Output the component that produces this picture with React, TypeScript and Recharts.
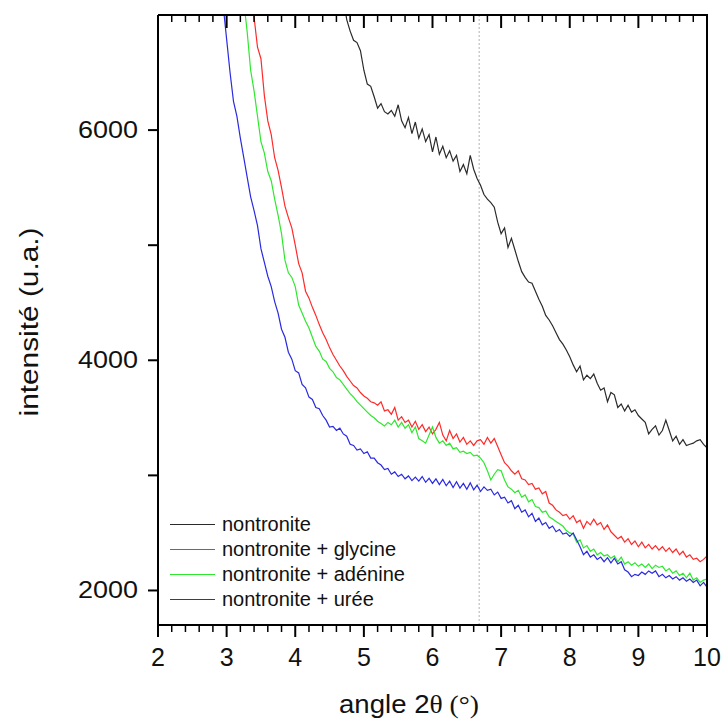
import React from "react";
import { LineChart, Line, XAxis, YAxis, ReferenceLine, Label } from "recharts";

const angles = [
  2.9, 2.95,
  3, 3.05, 3.1, 3.15, 3.2, 3.25, 3.3, 3.35, 3.4, 3.45, 3.5, 3.55, 3.6, 3.65, 3.7, 3.75, 3.8, 3.85, 3.9, 3.95,
  4, 4.05, 4.1, 4.15, 4.2, 4.25, 4.3, 4.35, 4.4, 4.45, 4.5, 4.55, 4.6, 4.65, 4.7, 4.75, 4.8, 4.85, 4.9, 4.95,
  5, 5.05, 5.1, 5.15, 5.2, 5.25, 5.3, 5.35, 5.4, 5.45, 5.5, 5.55, 5.6, 5.65, 5.7, 5.75, 5.8, 5.85, 5.9, 5.95,
  6, 6.05, 6.1, 6.15, 6.2, 6.25, 6.3, 6.35, 6.4, 6.45, 6.5, 6.55, 6.6, 6.65, 6.7, 6.75, 6.8, 6.85, 6.9, 6.95,
  7, 7.05, 7.1, 7.15, 7.2, 7.25, 7.3, 7.35, 7.4, 7.45, 7.5, 7.55, 7.6, 7.65, 7.7, 7.75, 7.8, 7.85, 7.9, 7.95,
  8, 8.05, 8.1, 8.15, 8.2, 8.25, 8.3, 8.35, 8.4, 8.45, 8.5, 8.55, 8.6, 8.65, 8.7, 8.75, 8.8, 8.85, 8.9, 8.95,
  9, 9.05, 9.1, 9.15, 9.2, 9.25, 9.3, 9.35, 9.4, 9.45, 9.5, 9.55, 9.6, 9.65, 9.7, 9.75, 9.8, 9.85, 9.9, 9.95,
  10,
];

// nontronite seule
const nontronite = [
  null, null,
  null, null, null, null, null, null, null, null, null, null, null, null, null, null, null, null, null, null, null, null,
  null, null, null, null, null, null, null, null, null, null, null, null, null, 7400, 7150, 6960, 6860, 6780, 6760, 6690,
  6520, 6400, 6380, 6290, 6190, 6230, 6160, 6140, 6170, 6120, 6220, 6080, 6020, 6110, 5970, 6070, 5930, 6010, 5900, 5960,
  5810, 5940, 5790, 5860, 5760, 5820, 5730, 5780, 5640, 5700, 5620, 5780, 5660, 5580, 5520, 5440, 5400, 5370, 5330, 5200,
  5100, 5150, 4980, 5060, 4960, 4860, 4770, 4720, 4680, 4670, 4600, 4530, 4470, 4390, 4350, 4300, 4240, 4180, 4140, 4090,
  4030, 3960, 3900, 3950, 3830, 3870, 3840, 3880, 3800, 3740, 3760, 3640, 3720, 3700, 3590, 3620, 3560, 3610, 3550, 3570,
  3520, 3490, 3460, 3360, 3400, 3430, 3350, 3390, 3480, 3390, 3300, 3340, 3270, 3310, 3260, 3270, 3280, 3300, 3310, 3270,
  3240,
];

const glycine = [
  null, null,
  null, null, null, null, null, null, 7700, 7300, 6980, 6720, 6620, 6300, 6080, 5960, 5760, 5650, 5500, 5340, 5240, 5150,
  5000, 4840, 4760, 4600, 4540, 4460, 4390, 4310, 4240, 4180, 4110, 4050, 4000, 3950, 3910, 3860, 3820, 3780, 3760, 3720,
  3690, 3670, 3640, 3630, 3610, 3640, 3560, 3570, 3530, 3590, 3480, 3510, 3460, 3480, 3420, 3470, 3400, 3440, 3380, 3420,
  3360, 3400, 3460, 3350, 3300, 3390, 3320, 3360, 3290, 3330, 3270, 3300, 3260, 3300, 3310, 3270, 3330, 3280, 3320, 3250,
  3180, 3110, 3080, 3040, 3010, 3040, 2970, 2960, 2920, 2930, 2880, 2890, 2840, 2860, 2760, 2740, 2700, 2680, 2650, 2660,
  2620, 2650, 2590, 2610, 2540, 2600, 2570, 2620, 2570, 2590, 2530, 2570, 2510, 2480, 2450, 2470, 2420, 2450, 2400, 2430,
  2380, 2420, 2370, 2400, 2360, 2390, 2350, 2380, 2340, 2370, 2330, 2360, 2310, 2340, 2290, 2310, 2270, 2280, 2250, 2270,
  2300,
];

const adenine = [
  null, null,
  null, null, null, null, 7450, 7120, 6850, 6520, 6340, 6120, 5900, 5800, 5640, 5560, 5400, 5260, 5100, 4870, 4760, 4720,
  4640, 4480, 4410, 4340, 4280, 4200, 4120, 4080, 4010, 3990, 3930, 3900, 3850, 3830, 3790, 3750, 3710, 3680, 3640, 3610,
  3580, 3550, 3520, 3500, 3470, 3450, 3430, 3460, 3440, 3480, 3420, 3460, 3410, 3440, 3370, 3420, 3320, 3300, 3280, 3350,
  3420, 3330, 3280, 3300, 3260, 3280, 3230, 3240, 3200, 3210, 3190, 3200, 3170, 3175, 3150, 3110, 3040, 2960, 3010, 3050,
  3040, 2960, 2900, 2880, 2850, 2870, 2810, 2830, 2770, 2790, 2730, 2720, 2680, 2690, 2640, 2620, 2600, 2580, 2560, 2520,
  2500, 2490, 2420, 2440, 2370, 2390, 2340, 2360, 2310, 2330, 2300, 2310, 2280, 2300, 2250, 2290, 2230, 2250, 2220, 2240,
  2210, 2230, 2200, 2230, 2190, 2220, 2200, 2210, 2170, 2190, 2150, 2170, 2130, 2150, 2110, 2150, 2090, 2110, 2070, 2090,
  2100,
];

const uree = [
  7500, 7080,
  6790, 6500, 6250, 6120, 5930, 5760, 5590, 5420, 5300, 5170, 4970, 4850, 4730, 4640, 4510, 4410, 4270, 4200, 4070, 4010,
  3910, 3890, 3790, 3760, 3680, 3660, 3590, 3580, 3520, 3480, 3420, 3425, 3390, 3410, 3360, 3340, 3270, 3260, 3220, 3230,
  3190, 3205, 3150, 3150, 3110, 3090, 3050, 3060, 3010, 3030, 2990, 3010, 2970, 2995, 2955, 2985, 2950, 2990, 2940, 2975,
  2930, 2970, 2920, 2965, 2910, 2950, 2895, 2945, 2890, 2930, 2880, 2935, 2875, 2915, 2860, 2900, 2870, 2880, 2830, 2855,
  2800, 2810, 2760, 2780, 2710, 2740, 2680, 2700, 2640, 2670, 2600, 2630, 2570, 2590, 2540, 2560, 2510, 2530, 2490, 2500,
  2470, 2500, 2440, 2380, 2310, 2340, 2290, 2310, 2270, 2290, 2250, 2285, 2240, 2280, 2230, 2250, 2180, 2160, 2120, 2140,
  2130, 2160, 2140, 2170, 2150, 2170, 2120, 2140, 2110, 2130, 2100, 2120, 2090, 2110, 2080, 2100, 2070, 2090, 2040, 2070,
  2030,
];

const xTicks = [
  2, 2.2, 2.4, 2.6, 2.8, 3, 3.2, 3.4, 3.6, 3.8, 4, 4.2, 4.4, 4.6, 4.8, 5, 5.2, 5.4, 5.6, 5.8,
  6, 6.2, 6.4, 6.6, 6.8, 7, 7.2, 7.4, 7.6, 7.8, 8, 8.2, 8.4, 8.6, 8.8, 9, 9.2, 9.4, 9.6, 9.8, 10,
];
const yTicks = [2000, 3000, 4000, 5000, 6000];
const yLabelled = [2000, 4000, 6000];
const markerAngle = 6.68;
const xMax = 10;

const series = [
  { key: "nontronite", name: "nontronite", color: "#2b2b2b" },
  { key: "glycine", name: "nontronite + glycine", color: "#ff2a2a" },
  { key: "adenine", name: "nontronite + adénine", color: "#2ee82e" },
  { key: "uree", name: "nontronite + urée", color: "#2a2ae0" },
];

const data = angles.map((angle, i) => ({
  angle,
  nontronite: nontronite[i],
  glycine: glycine[i],
  adenine: adenine[i],
  uree: uree[i],
}));

const SANS = "Arial, 'Liberation Sans', sans-serif";
const SERIF = "'Times New Roman', 'Liberation Serif', serif";

function BottomTick({ x, y, payload }: any) {
  const major = Number.isInteger(payload.value);
  return (
    <g>
      <line x1={x} x2={x} y1={y} y2={y + (major ? 12 : 7)} stroke="#000" strokeWidth={major ? 2 : 1.5} />
      {major && (
        <text x={x} y={y + 32} textAnchor="middle" dominantBaseline="central" fontSize={25} fontFamily={SANS} fill="#111">
          {payload.value}
        </text>
      )}
    </g>
  );
}

function TopTick({ x, y, payload }: any) {
  const major = Number.isInteger(payload.value);
  return <line x1={x} x2={x} y1={y} y2={y + (major ? 13 : 7)} stroke="#000" strokeWidth={major ? 2 : 1.5} />;
}

function LeftTick({ x, y, payload }: any) {
  if (!yLabelled.includes(payload.value)) return <g />;
  return (
    <text x={x} y={y} textAnchor="end" dominantBaseline="central" fontSize={23} fontFamily={SANS} fill="#111"
      textLength={60} lengthAdjust="spacingAndGlyphs">
      {payload.value}
    </text>
  );
}

function SeriesKey() {
  return (
    <div style={{ position: "absolute", left: 170, top: 512, width: 280, fontFamily: SANS, fontSize: 20, color: "#111" }}>
      {series.map((s) => (
        <div key={s.key} style={{ display: "flex", alignItems: "center", height: 25 }}>
          <div style={{ width: 45, borderTop: `1px solid ${s.color}`, marginRight: 7 }} />
          <span style={{ lineHeight: "25px" }}>{s.name}</span>
        </div>
      ))}
    </div>
  );
}

export default function App() {
  return (
    <div style={{ position: "absolute", left: 0, top: 0, width: 721, height: 722, background: "#fff" }}>
      <LineChart width={721} height={722} data={data} margin={{ top: 14, right: 14, bottom: 0, left: 0 }}>
        <XAxis
          dataKey="angle"
          type="number"
          domain={[2, 10]}
          ticks={xTicks}
          interval={0}
          height={97}
          tickSize={0}
          tickMargin={0}
          tickLine={false}
          axisLine={{ stroke: "#000", strokeWidth: 2 }}
          tick={<BottomTick />}
        >
          <Label
            content={() => (
              <text x={409} y={713} textAnchor="middle" fontSize={26} fontFamily={SANS} fill="#111"
                textLength={140} lengthAdjust="spacingAndGlyphs">
                angle 2<tspan fontFamily={SERIF}>θ (°)</tspan>
              </text>
            )}
          />
        </XAxis>
        <XAxis
          xAxisId="top"
          orientation="top"
          dataKey="angle"
          type="number"
          domain={[2, 10]}
          ticks={xTicks}
          interval={0}
          height={1}
          tickSize={0}
          tickMargin={0}
          tickLine={false}
          axisLine={{ stroke: "#000", strokeWidth: 2 }}
          tick={<TopTick />}
        />
        <YAxis
          type="number"
          domain={[1700, 7000]}
          allowDataOverflow
          ticks={yTicks}
          interval={0}
          width={158}
          tickSize={10}
          tickMargin={10}
          tickLine={{ stroke: "#000", strokeWidth: 2 }}
          axisLine={{ stroke: "#000", strokeWidth: 2 }}
          tick={<LeftTick />}
        >
          <Label
            content={() => (
              <text transform="translate(29, 322) rotate(-90)" textAnchor="middle" dominantBaseline="central"
                fontSize={26} fontFamily={SANS} fill="#111" textLength={189} lengthAdjust="spacingAndGlyphs">
                intensité (u.a.)
              </text>
            )}
          />
        </YAxis>
        <ReferenceLine x={markerAngle} stroke="#b0b0b0" strokeDasharray="2 2" strokeWidth={1} />
        <ReferenceLine x={xMax} stroke="#000" strokeWidth={2} ifOverflow="extendDomain" />
        {series.map((s) => (
          <Line
            key={s.key}
            type="linear"
            dataKey={s.key}
            name={s.name}
            stroke={s.color}
            strokeWidth={1.2}
            dot={false}
            activeDot={false}
            isAnimationActive={false}
          />
        ))}
      </LineChart>
      {/* right edge of the plot frame (plot spans x 158..707, y 15..625) */}
      <div style={{ position: "absolute", left: 706, top: 14, width: 2, height: 612, background: "#000" }} />
      <SeriesKey />
    </div>
  );
}
